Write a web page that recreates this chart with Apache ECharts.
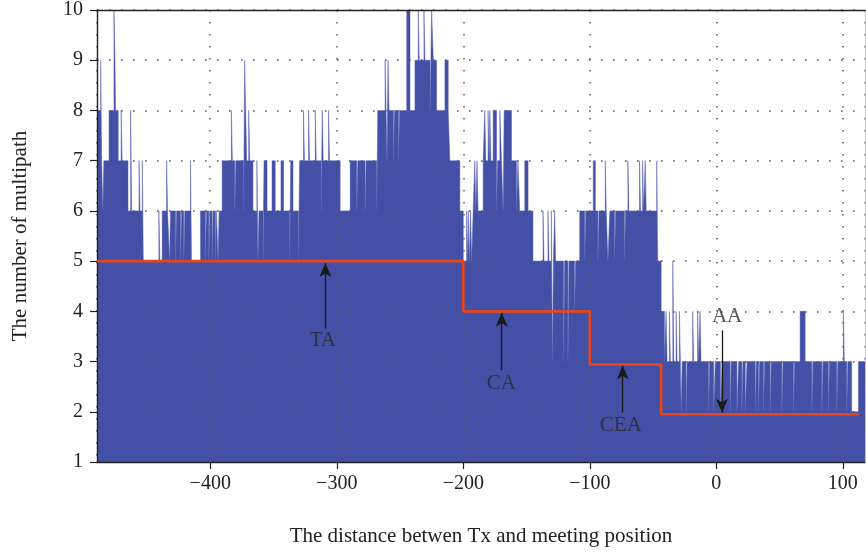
<!DOCTYPE html>
<html>
<head>
<meta charset="utf-8">
<script src="https://cdn.jsdelivr.net/npm/echarts@6/dist/echarts.min.js"></script>
<style>
html,body{margin:0;padding:0;background:#fff;}
#chart{width:866px;height:554px;}
</style>
</head>
<body>
<div id="chart"></div>
<script>
// Multipath count: change points of the step profile (x = distance, value holds until next x)
const stepX = [
-489.5,-486.6,-485.8,-484.9,-484.1,-480.0,-476.1,-475.3,-474.8,-472.7,-470.4,-469.6,-465.0,-462.9,-462.1,
-456.3,-455.5,-453.7,-452.9,-440.6,-439.8,-438.0,-434.5,-433.7,-432.2,-431.4,-427.4,-426.6,-423.5,-422.7,
-420.9,-420.1,-415.6,-414.8,-407.7,-403.8,-403.0,-401.1,-400.3,-398.5,-397.7,-395.9,-395.1,-393.8,-393.0,
-390.6,-383.3,-382.5,-380.6,-379.8,-373.6,-372.8,-372.0,-371.2,-369.6,-368.8,-366.2,-363.1,-362.3,-361.5,
-358.3,-357.5,-355.1,-351.2,-348.6,-344.1,-342.0,-337.2,-336.4,-334.6,-330.2,-329.4,-326.3,-325.5,-322.3,
-321.5,-317.0,-316.2,-312.3,-311.5,-310.7,-306.5,-305.7,-297.3,-289.4,-284.2,-283.4,-277.6,-276.8,-268.4,
-267.6,-261.8,-261.0,-260.3,-259.5,-258.7,-255.2,-254.4,-251.2,-250.4,-244.7,-242.1,-238.2,-235.6,-234.8,
-231.1,-230.3,-226.3,-225.0,-223.7,-221.1,-214.5,-211.9,-210.6,-202.7,-200.0,-197.4,-196.6,-196.1,-195.3,
-194.2,-193.4,-192.2,-190.9,-190.1,-189.1,-188.3,-184.3,-183.0,-182.2,-180.4,-179.6,-179.0,-178.2,-176.4,
-173.7,-172.9,-171.1,-169.8,-168.5,-167.7,-161.9,-158.0,-156.8,-155.4,-151.4,-148.8,-144.9,-137.0,-136.2,
-133.1,-132.3,-130.4,-129.6,-128.8,-127.8,-127.0,-120.7,-119.9,-117.3,-116.5,-112.0,-111.2,-108.0,-104.0,
-103.2,-100.2,-97.3,-95.6,-93.6,-92.8,-87.8,-87.0,-85.7,-84.2,-80.4,-79.6,-72.6,-71.8,-69.9,
-69.1,-60.7,-59.9,-58.3,-57.5,-56.2,-55.4,-47.1,-46.3,-43.6,-41.0,-39.7,-38.9,-37.1,-36.3,
-34.4,-33.6,-31.8,-31.0,-29.2,-28.4,-27.8,-27.0,-23.9,-23.1,-18.7,-17.9,-14.8,-14.0,-12.9,
-12.1,-6.1,-5.3,-2.1,-0.8,3.2,4.5,11.0,11.8,16.3,17.6,20.2,21.0,22.9,24.2,
30.8,31.6,33.4,34.2,37.3,38.1,42.6,43.4,51.8,52.6,61.0,61.8,66.2,70.2,75.5,
76.3,83.4,84.2,88.6,89.4,95.2,96.0,100.4,101.2,103.1,103.9,107.0,112.3,117.5
];
const stepY = [
8,9,7,6,7,8,10,9,8,7,8,7,6,8,6,
7,6,7,5,6,5,6,7,6,5,6,5,6,5,6,
5,6,7,5,6,5,6,5,6,5,6,5,6,5,6,
7,8,7,6,7,6,9,8,7,8,7,6,7,5,6,
5,7,6,7,6,7,6,5,7,6,5,7,8,7,8,
7,8,7,6,8,7,8,7,6,7,6,7,6,7,6,
8,9,8,7,9,8,7,8,7,8,10,8,9,10,9,
10,9,8,10,9,8,9,8,7,6,5,6,5,6,5,
6,5,6,7,6,7,6,7,8,7,8,7,8,7,8,
6,7,8,7,6,8,7,6,7,6,7,6,5,6,5,
6,5,6,3,5,6,5,3,5,3,5,4,5,6,5,
6,6,7,6,5,6,7,6,5,6,5,6,5,6,7,
6,7,6,7,6,7,6,7,5,4,3,4,3,4,3,
5,3,4,3,4,3,2,3,2,3,4,3,4,3,4,
3,2,3,2,3,2,3,2,3,2,3,2,3,2,3,
2,3,2,3,2,3,2,3,2,3,2,3,4,3,2,
3,2,3,2,3,2,3,4,3,2,3,2,3,3
];

// Area-average (red) step levels
const avgX = [-489.5, -200, -100, -43.6, 113];
const avgY = [5, 4, 2.94, 1.95, 1.95];

// Axis ticks
const yTicks = [1,2,3,4,5,6,7,8,9,10];

// Annotations
const annoLabels = ['TA', 'CA', 'CEA', 'AA'];
const annoTextX = [-311, -170, -75.5, 8.5];
const annoTextY = [3.42, 2.57, 1.73, 3.9];
const arrowX = [-309, -169.6, -74, 4.5];
const arrowFromY = [3.66, 2.83, 1.98, 3.62];
const arrowToY = [4.96, 3.97, 2.92, 1.98];

const chart = echarts.init(document.getElementById('chart'), null, {renderer: 'canvas'});
const FONT = 'Liberation Serif';
const dotted = {type: [1.6, 10.4], color: '#5a5a5a', width: 1.5};
const X_MIN = -489.5, X_MAX = 117.5;

const option = {
  animation: false,
  backgroundColor: '#fff',
  grid: {left: 97, right: 1, top: 8, bottom: 92},
  xAxis: [{
    type: 'value', min: X_MIN, max: X_MAX, z: 5,
    name: 'The distance betwen Tx and meeting position',
    nameLocation: 'middle', nameGap: 64,
    nameTextStyle: {fontFamily: FONT, fontSize: 21, color: '#222'},
    axisLine: {onZero: false, lineStyle: {color: '#222', width: 1.4}},
    axisTick: {inside: false, length: 7, lineStyle: {color: '#222', width: 1.2}},
    axisLabel: {showMinLabel: false, showMaxLabel: false, fontFamily: FONT, fontSize: 20, color: '#222', margin: 12,
      formatter: v => v < 0 ? '\u2212' + Math.abs(v) : String(v)},
    splitLine: {show: true, lineStyle: dotted}
  }, {
    type: 'value', position: 'top', min: X_MIN, max: X_MAX, z: 6,
    axisLine: {show: true, onZero: false, lineStyle: {color: '#222', width: 1.4}},
    axisTick: {show: false}, axisLabel: {show: false}, splitLine: {show: false}
  }],
  yAxis: [{
    type: 'value', min: yTicks[0], max: yTicks[yTicks.length - 1], interval: 1, z: 5,
    name: 'The number of multipath',
    nameLocation: 'middle', nameGap: 66,
    nameTextStyle: {fontFamily: FONT, fontSize: 21, color: '#222'},
    axisLine: {onZero: false, lineStyle: {color: '#222', width: 1.4}},
    axisTick: {inside: false, length: 7, lineStyle: {color: '#222', width: 1.2}},
    axisLabel: {fontFamily: FONT, fontSize: 20, color: '#222', margin: 14},
    splitLine: {show: true, lineStyle: dotted}
  }, {
    type: 'value', position: 'right', min: yTicks[0], max: yTicks[yTicks.length - 1], interval: 1, z: 6,
    axisLine: {show: true, onZero: false, lineStyle: {color: '#c4c4c4', width: 1}},
    axisTick: {show: false}, axisLabel: {show: false}, splitLine: {show: false}
  }],
  series: [
    {
      type: 'line', step: 'end', symbol: 'none', z: 2,
      data: stepX.map((x, i) => [x, stepY[i]]),
      lineStyle: {width: 0.5, color: '#5561b4'},
      areaStyle: {color: '#4450a6', opacity: 1, origin: 'start'}
    },
    {
      type: 'line', step: 'end', symbol: 'none', z: 10,
      data: avgX.map((x, i) => [x, avgY[i]]),
      lineStyle: {width: 2.6, color: '#e5461c'},
      markLine: {
        silent: true, symbol: ['none', 'arrow'], symbolSize: [9, 14], precision: 4,
        lineStyle: {color: '#1a1a1a', width: 1.3, type: 'solid'},
        label: {show: false},
        data: arrowX.map((x, i) => [{coord: [x, arrowFromY[i]]}, {coord: [x, arrowToY[i]]}])
      }
    },
    {
      type: 'scatter', symbolSize: 0, z: 11,
      data: annoLabels.map((n, i) => ({name: n, value: [annoTextX[i], annoTextY[i]]})),
      label: {show: true, position: 'inside', formatter: '{b}', fontFamily: FONT, fontSize: 21, color: '#2a2a2a'}
    }
  ]
};
chart.setOption(option);
</script>
</body>
</html>
